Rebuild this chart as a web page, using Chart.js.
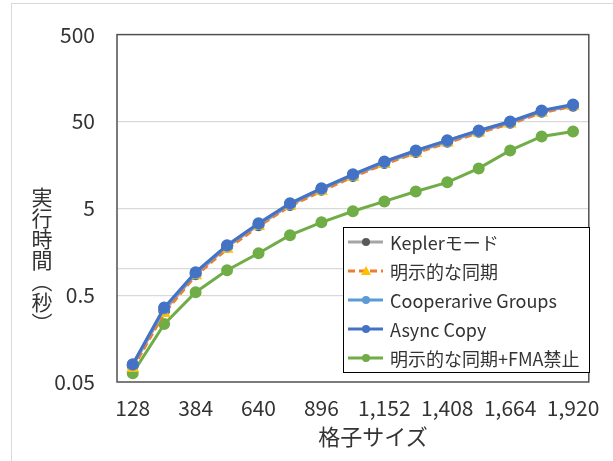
<!DOCTYPE html>
<html>
<head>
<meta charset="utf-8">
<script src="https://cdn.jsdelivr.net/npm/chart.js@4"></script>
<style>
  body { margin: 0; background: #fff; }
  #wrap { position: relative; width: 613px; height: 461px; overflow: hidden; }
  #frame { position: absolute; left: 11px; top: 3px; width: 700px; height: 600px;
           border: 1px solid #d9d9d9; pointer-events: none; }
  .ttl { position: absolute; font-family: "Noto Sans CJK JP"; color: #333; font-size: 21px; line-height: 1; }
  #ytitle { left: 31px; top: 187px; writing-mode: vertical-rl; text-orientation: upright; }
  #xtitle { left: 373px; top: 424px; transform: translateX(-50%); white-space: nowrap; font-size: 22px; }
</style>
</head>
<body>
<div id="wrap">
  <canvas id="myChart" width="613" height="461"></canvas>
  <div id="frame"></div>
  <div class="ttl" id="ytitle">実行時間（秒）</div>
  <div class="ttl" id="xtitle">格子サイズ</div>
</div>
<script>
// grid sizes
var gridSizes = [128, 256, 384, 512, 640, 768, 896, 1024, 1152, 1280, 1408, 1536, 1664, 1792, 1920];
// run time in seconds
var kepler   = [0.077, 0.33, 0.87, 1.8, 3.2, 5.45, 8.2, 11.8, 16.6, 22.3, 29.2, 38.0, 48.2, 64.5, 76.0];
var explicit = [0.072, 0.31, 0.84, 1.7, 3.1, 5.3, 7.9, 11.5, 16.1, 21.7, 28.4, 37.0, 47.0, 62.8, 75.0];
var coop     = [0.079, 0.35, 0.9, 1.85, 3.3, 5.6, 8.4, 12.1, 17.0, 22.8, 29.8, 38.8, 49.2, 65.8, 77.2];
var async    = [0.08, 0.36, 0.92, 1.88, 3.36, 5.7, 8.5, 12.3, 17.3, 23.2, 30.3, 39.4, 50, 66.9, 78.4];
var noFma    = [0.063, 0.232, 0.54, 0.97, 1.52, 2.45, 3.45, 4.62, 6.0, 7.8, 9.95, 14.4, 23.2, 33.6, 38.4];
var yTicks = [0.05, 0.5, 1, 5, 50, 500];
var yTickLabels = ['0.05', '0.5', '', '5', '50', '500'];

var font = '"Noto Sans CJK JP", "Noto Sans", sans-serif';

function series(label, data, line, point, style, dash, order) {
  return {
    label: label, data: data, borderColor: line, backgroundColor: point,
    pointBackgroundColor: point, pointBorderColor: point,
    pointStyle: style, pointRadius: 4.5, borderWidth: 3, borderDash: dash || [],
    tension: 0, order: order
  };
}

// plot frame + legend inside the plot
var extras = {
  id: 'extras',
  afterDraw: function(chart) {
    var ctx = chart.ctx, a = chart.chartArea;
    ctx.save();
    ctx.strokeStyle = '#505050';
    ctx.lineWidth = 1.5;
    ctx.strokeRect(a.left, a.top, a.right - a.left, a.bottom - a.top);

    var bx = 343, by = 227, bw = 246, bh = 145;
    ctx.fillStyle = '#fff';
    ctx.fillRect(bx, by, bw, bh);
    ctx.strokeStyle = '#000';
    ctx.lineWidth = 1;
    ctx.strokeRect(bx + 0.5, by + 0.5, bw, bh);

    ctx.font = '18px ' + font;
    ctx.textBaseline = 'middle';
    chart.data.datasets.forEach(function(ds, i) {
      var y = 242 + i * 29;
      ctx.strokeStyle = ds.borderColor;
      ctx.lineWidth = 3;
      ctx.setLineDash(ds.borderDash.length ? [7, 4] : []);
      ctx.beginPath(); ctx.moveTo(348, y); ctx.lineTo(383, y); ctx.stroke();
      ctx.setLineDash([]);
      ctx.fillStyle = ds.pointBackgroundColor;
      ctx.beginPath();
      if (ds.pointStyle === 'triangle') {
        ctx.moveTo(366, y - 5); ctx.lineTo(371, y + 4); ctx.lineTo(361, y + 4); ctx.closePath();
      } else {
        ctx.arc(366, y, 4, 0, Math.PI * 2);
      }
      ctx.fill();
      ctx.fillStyle = '#333';
      ctx.fillText(ds.label, 390, y + 1);
    });
    ctx.restore();
  }
};

new Chart(document.getElementById('myChart').getContext('2d'), {
  type: 'line',
  data: {
    labels: gridSizes,
    datasets: [
      series('Keplerモード', kepler, '#A5A5A5', '#595959', 'circle', null, 3),
      series('明示的な同期', explicit, '#ED7D31', '#FFC000', 'triangle', [7, 4], 2),
      series('Cooperarive Groups', coop, '#5B9BD5', '#5B9BD5', 'circle', null, 1),
      series('Async Copy', async, '#4472C4', '#4472C4', 'circle', null, 0),
      series('明示的な同期+FMA禁止', noFma, '#70AD47', '#70AD47', 'circle', null, 4)
    ]
  },
  options: {
    responsive: false,
    animation: false,
    layout: { padding: { left: 0, right: 21, top: 33, bottom: 0 } },
    plugins: { legend: { display: false }, tooltip: { enabled: false } },
    scales: {
      x: {
        type: 'category',
        offset: true,
        grid: { display: false, drawTicks: false },
        border: { display: false },
        afterFit: function(s) { s.height = 79; },
        ticks: {
          autoSkip: false, maxRotation: 0, padding: 13,
          color: '#333', font: { family: font, size: 21 },
          callback: function(v, i) { return i % 2 === 0 ? gridSizes[i].toLocaleString('en-US') : ''; }
        }
      },
      y: {
        type: 'logarithmic',
        min: 0.05, max: 500,
        afterFit: function(s) { s.width = 117; },
        afterBuildTicks: function(s) { s.ticks = yTicks.map(function(v) { return { value: v }; }); },
        grid: {
          drawTicks: false, lineWidth: 1.3,
          color: function(c) { return (c.tick.value === 0.05 || c.tick.value === 500) ? 'rgba(0,0,0,0)' : '#d9d9d9'; }
        },
        border: { display: false },
        ticks: {
          padding: 22, color: '#333', font: { family: font, size: 21 },
          callback: function(v) { return yTickLabels[yTicks.indexOf(v)]; }
        }
      }
    }
  },
  plugins: [extras]
});
</script>
</body>
</html>
